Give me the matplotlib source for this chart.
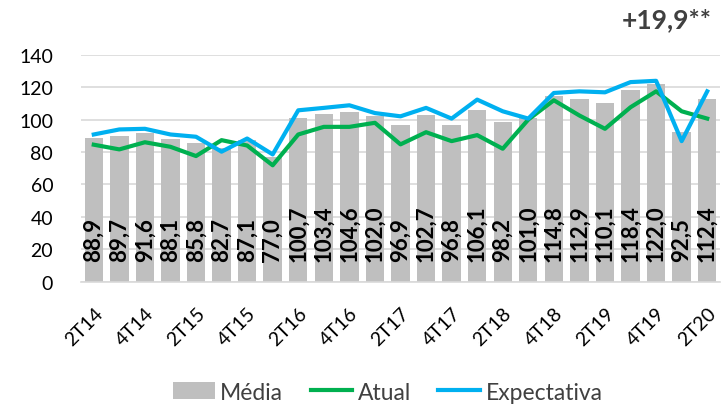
import matplotlib.pyplot as plt
import numpy as np

QUARTERS = [
    '2T14', '3T14', '4T14', '1T15', '2T15', '3T15', '4T15', '1T16', '2T16',
    '3T16', '4T16', '1T17', '2T17', '3T17', '4T17', '1T18', '2T18', '3T18',
    '4T18', '1T19', '2T19', '3T19', '4T19', '1T20', '2T20',
]
MEDIA = [
    88.9, 89.7, 91.6, 88.1, 85.8, 82.7, 87.1, 77.0, 100.7, 103.4, 104.6,
    102.0, 96.9, 102.7, 96.8, 106.1, 98.2, 101.0, 114.8, 112.9, 110.1,
    118.4, 122.0, 92.5, 112.4,
]
ATUAL = [
    84.5, 81.6, 86.0, 83.2, 77.5, 87.3, 84.0, 71.8, 90.8, 95.5, 95.5,
    98.0, 84.7, 92.2, 86.7, 90.4, 82.0, 100.0, 111.9, 102.5, 94.3,
    107.6, 117.4, 105.1, 100.6,
]
EXPECTATIVA = [
    90.8, 93.9, 94.3, 90.8, 89.4, 80.2, 88.3, 78.5, 105.7, 107.2, 108.8,
    104.0, 102.0, 107.2, 100.6, 112.3, 105.1, 100.6, 116.4, 117.4, 116.8,
    123.1, 123.9, 86.7, 117.4,
]
Y_TICKS = [0, 20, 40, 60, 80, 100, 120, 140]

GRAY = '#BFBFBF'
GREEN = '#00B050'
BLUE = '#00B0F0'
TEXT = '#404040'

plt.rcParams['font.family'] = ['Lato', 'DejaVu Sans']

fig = plt.figure(figsize=(7.25, 4.06), dpi=100)
ax = fig.add_axes([0.1117, 0.3037, 0.8814, 0.5591])

x = np.arange(len(QUARTERS))
bars = ax.bar(x, MEDIA, width=0.72, color=GRAY, label='Média', zorder=2)
l1, = ax.plot(x, ATUAL, color=GREEN, lw=3, label='Atual', zorder=3)
l2, = ax.plot(x, EXPECTATIVA, color=BLUE, lw=3, label='Expectativa', zorder=4)

for xi, v in zip(x, MEDIA):
    ax.annotate(f'{v:.1f}'.replace('.', ','), (xi, 0), xytext=(0, 15),
                textcoords='offset points', rotation=90, ha='center',
                va='bottom', fontsize=16, fontweight='bold', color='black',
                zorder=5)

ax.set_xlim(-0.5, len(QUARTERS) - 0.5)
ax.set_ylim(0, 140)
ax.set_yticks(Y_TICKS)
ax.set_xticks(x[::2])
ax.set_xticklabels(QUARTERS[::2], rotation=45, ha='right',
                   rotation_mode='anchor')
ax.tick_params(axis='both', length=0, labelsize=14, labelcolor='black')
ax.tick_params(axis='x', pad=16)
ax.tick_params(axis='y', pad=20)

ax.grid(axis='y', color='#D9D9D9', lw=1.2, zorder=0)
for s in ax.spines.values():
    s.set_visible(False)
ax.spines['bottom'].set_visible(True)
ax.spines['bottom'].set_color('#D9D9D9')
ax.spines['bottom'].set_linewidth(1.2)

fig.text(0.982, 0.95, '+19,9**', ha='right', va='center', fontsize=19,
         fontweight='bold', color=TEXT)

fig.legend([bars, l1, l2], ['Média', 'Atual', 'Expectativa'],
           loc='center', bbox_to_anchor=(0.535, 0.032), ncol=3,
           frameon=False, fontsize=16.5, handlelength=1.8, handleheight=0.8,
           columnspacing=1.2, handletextpad=0.25, labelcolor=TEXT)

fig.savefig('out.png', dpi=100)
